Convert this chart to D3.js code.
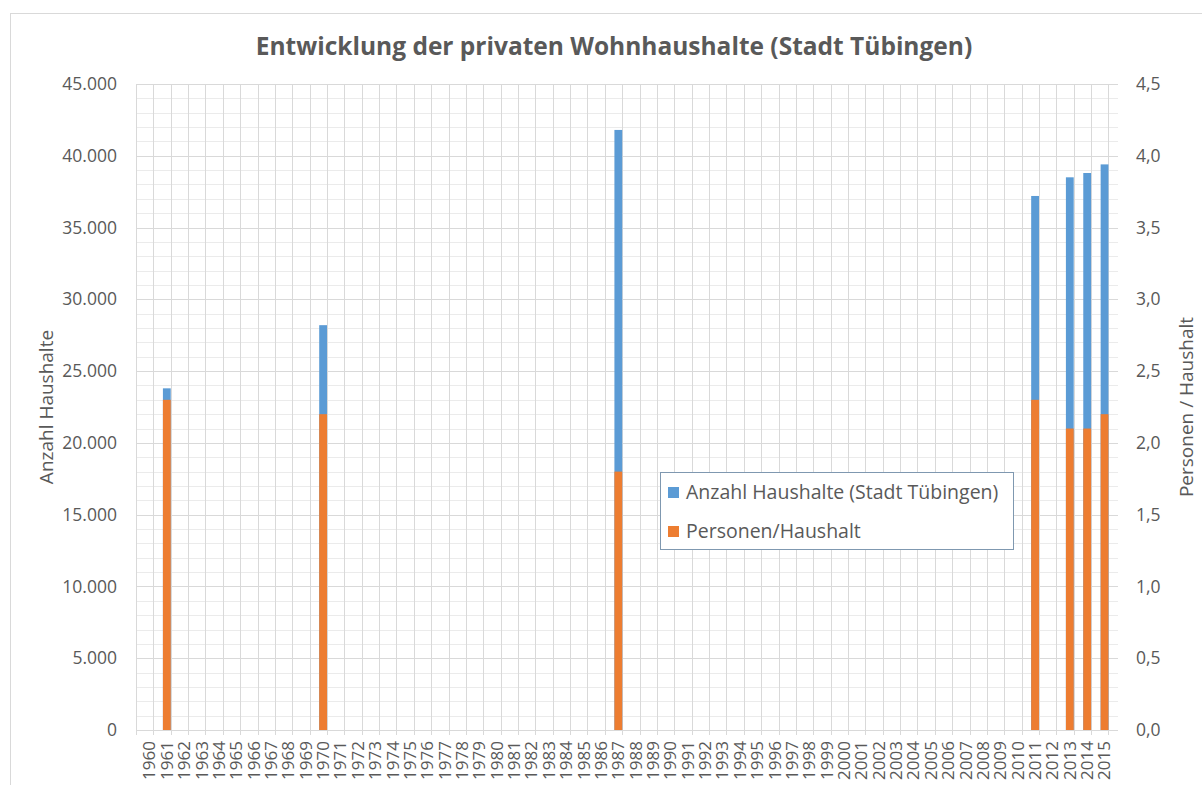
<!DOCTYPE html>
<html>
<head>
<meta charset="utf-8">
<script src="https://cdn.jsdelivr.net/npm/d3@7"></script>
<style>
	body {margin:0; background:#fff;}
	svg text {font-family:"Open Sans", sans-serif; fill:#595959;}
</style>
</head>
<body>
<svg id="Chart" width="1202" height="785"></svg>
<script>
// categories shown on the x axis (every year, most without data)
var years = d3.range(1960, 2016);

// years that actually have values
var barYears = [1961, 1970, 1987, 2011, 2013, 2014, 2015];
var households = [23800, 28200, 41800, 37200, 38500, 38800, 39400];	//Anzahl Haushalte (left axis)
var personsPerHousehold = [2.3, 2.2, 1.8, 2.3, 2.1, 2.1, 2.2];		//Personen/Haushalt (right axis)

var leftTicks = d3.range(0, 45001, 5000);
var rightTicks = [0, 0.5, 1, 1.5, 2, 2.5, 3, 3.5, 4, 4.5];

var seriesNames = ["Anzahl Haushalte (Stadt Tübingen)", "Personen/Haushalt"];
var seriesColors = ["#5B9BD5", "#ED7D31"];

var de = d3.formatLocale({decimal:",", thousands:".", grouping:[3], currency:["", " €"]});

var Plot = {left:136, right:1118, top:84, bottom:730};

var svg = d3.select("#Chart");

// outer chart border
svg.append("rect").attr("x",10.5).attr("y",13.5).attr("width",1200).attr("height",800)
	.attr("fill","none").attr("stroke","#d9d9d9");

var x = d3.scaleBand().domain(years).range([Plot.left, Plot.right]).padding(0.55);
var yLeft = d3.scaleLinear().domain([0, 45000]).range([Plot.bottom, Plot.top]);
var yRight = d3.scaleLinear().domain([0, 4.5]).range([Plot.bottom, Plot.top]);

var grid = svg.append("g");
// minor horizontal lines every 1000
grid.selectAll("line.minor").data(d3.range(1000, 45000, 1000).filter(function(d) {return d % 5000 !== 0;}))
	.enter().append("line")
	.attr("x1",Plot.left).attr("x2",Plot.right)
	.attr("y1",function(d) {return Math.round(yLeft(d))+0.5;})
	.attr("y2",function(d) {return Math.round(yLeft(d))+0.5;})
	.attr("stroke","#ebebeb");
// vertical lines at category boundaries
grid.selectAll("line.vert").data(years.concat([2016]))
	.enter().append("line")
	.attr("x1",function(d,i) {return Math.round(Plot.left + i*x.step())+0.5;})
	.attr("x2",function(d,i) {return Math.round(Plot.left + i*x.step())+0.5;})
	.attr("y1",Plot.top).attr("y2",Plot.bottom+5)
	.attr("stroke","#d9d9d9");
// major horizontal lines
grid.selectAll("line.major").data(leftTicks)
	.enter().append("line")
	.attr("x1",Plot.left).attr("x2",Plot.right)
	.attr("y1",function(d) {return Math.round(yLeft(d))+0.5;})
	.attr("y2",function(d) {return Math.round(yLeft(d))+0.5;})
	.attr("stroke","#d9d9d9");

// bars: households first, persons per household drawn on top
var bars = svg.append("g");
bars.selectAll("rect.hh").data(barYears)
	.enter().append("rect")
	.attr("x",function(d) {return x(d);})
	.attr("width",x.bandwidth())
	.attr("y",function(d,i) {return yLeft(households[i]);})
	.attr("height",function(d,i) {return yLeft(0) - yLeft(households[i]);})
	.attr("fill",seriesColors[0]);
bars.selectAll("rect.pp").data(barYears)
	.enter().append("rect")
	.attr("x",function(d) {return x(d);})
	.attr("width",x.bandwidth())
	.attr("y",function(d,i) {return yRight(personsPerHousehold[i]);})
	.attr("height",function(d,i) {return yRight(0) - yRight(personsPerHousehold[i]);})
	.attr("fill",seriesColors[1]);

// left axis labels
svg.append("g").selectAll("text").data(leftTicks)
	.enter().append("text")
	.attr("x",117).attr("y",function(d) {return yLeft(d);})
	.attr("dy","0.35em").attr("text-anchor","end")
	.style("font-size","17.5px")
	.text(function(d) {return de.format(",")(d);});

// right axis labels
svg.append("g").selectAll("text").data(rightTicks)
	.enter().append("text")
	.attr("x",1136).attr("y",function(d) {return yRight(d);})
	.attr("dy","0.35em").attr("text-anchor","start")
	.style("font-size","17.5px")
	.text(function(d) {return de.format(".1f")(d);});

// x axis labels, rotated
svg.append("g").selectAll("text").data(years)
	.enter().append("text")
	.attr("transform",function(d) {return "translate(" + (x(d) + x.bandwidth()/2) + "," + (Plot.bottom + 11) + ") rotate(-90)";})
	.attr("dy","0.35em").attr("text-anchor","end")
	.style("font-size","17px")
	.text(function(d) {return d;});

// axis titles
svg.append("text")
	.attr("transform","translate(46," + ((Plot.top+Plot.bottom)/2) + ") rotate(-90)")
	.attr("dy","0.35em").attr("text-anchor","middle")
	.style("font-size","19px")
	.text("Anzahl Haushalte");
svg.append("text")
	.attr("transform","translate(1186," + ((Plot.top+Plot.bottom)/2) + ") rotate(-90)")
	.attr("dy","0.35em").attr("text-anchor","middle")
	.style("font-size","19px")
	.text("Personen / Haushalt");

// title
svg.append("text")
	.attr("x",614).attr("y",46).attr("dy","0.35em")
	.attr("text-anchor","middle")
	.style("font-size","24.5px").style("font-weight","bold")
	.text("Entwicklung der privaten Wohnhaushalte (Stadt Tübingen)");

// legend
var legend = svg.append("g").attr("transform","translate(660,472)");
legend.append("rect").attr("x",0.5).attr("y",0.5).attr("width",353).attr("height",77)
	.attr("fill","#fff").attr("stroke","#7f98b0");
var items = legend.selectAll("g.item").data(seriesNames)
	.enter().append("g")
	.attr("transform",function(d,i) {return "translate(8," + (20 + i*39) + ")";});
items.append("rect").attr("x",0).attr("y",-5).attr("width",11).attr("height",11)
	.attr("fill",function(d,i) {return seriesColors[i];});
items.append("text").attr("x",18).attr("dy","0.35em")
	.style("font-size","19.5px")
	.text(function(d) {return d;});
</script>
</body>
</html>
